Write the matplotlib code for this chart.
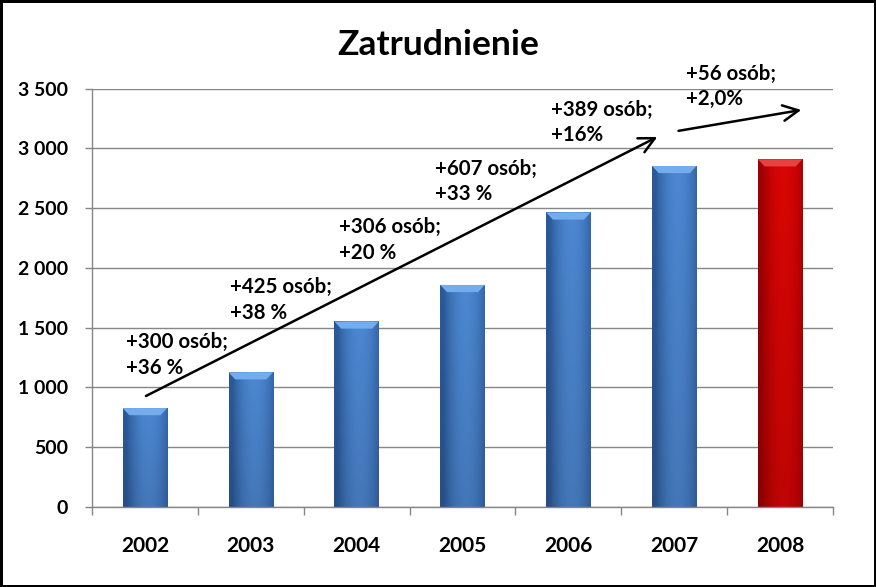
import numpy as np
import matplotlib
matplotlib.use("Agg")
import matplotlib.pyplot as plt
from matplotlib.patches import Polygon
from matplotlib.ticker import FuncFormatter, FixedLocator

# Data
years = ["2002", "2003", "2004", "2005", "2006", "2007", "2008"]
employment = [826, 1126, 1551, 1857, 2464, 2853, 2909]
highlight = [False, False, False, False, False, False, True]

# Year-on-year change labels, with (category x of left edge, y of block centre)
change_labels = ["+300 osób;\n+36 %", "+425 osób;\n+38 %", "+306 osób;\n+20 %",
                 "+607 osób;\n+33 %", "+389 osób;\n+16%", "+56 osób;\n+2,0%"]
label_x = [-0.18, 0.80, 1.83, 2.74, 3.84, 5.11]
label_y = [1270, 1731, 2233, 2724, 3218, 3519]

# Trend arrows (start, end) in data coordinates
arrows = [((0.01, 927), (4.84, 3096)), ((5.04, 3147), (6.20, 3322))]

FONT = ["Lato", "DejaVu Sans"]
BLUE = {"dark": np.array([0.17, 0.35, 0.60]), "light": np.array([0.30, 0.53, 0.82]),
        "top": np.array([0.45, 0.68, 0.93])}
RED = {"dark": np.array([0.62, 0.0, 0.0]), "light": np.array([0.85, 0.02, 0.02]),
       "top": np.array([0.92, 0.25, 0.25])}


def shade_bar(ax, bar, pal):
    """Fill a bar with a horizontal gradient and a light bevel on top."""
    x0, y0 = bar.get_x(), bar.get_y()
    w, h = bar.get_width(), bar.get_height()
    t = np.linspace(0, 1, 80)
    prof = 1 - np.abs(2 * t - 1.15).clip(0, 1) ** 2
    row = pal["dark"][None, :] + (pal["light"] - pal["dark"])[None, :] * prof[:, None]
    # slight darkening towards the bottom
    v = np.linspace(0.88, 1.0, 60)[:, None, None]
    img = (row[None, :, :] * v).clip(0, 1)
    ax.imshow(img, extent=(x0, x0 + w, y0, y0 + h), origin="lower",
              aspect="auto", zorder=2, interpolation="bilinear")
    bevel = 60
    inset = w * 0.15
    top = y0 + h
    ax.add_patch(Polygon([(x0, top), (x0 + w, top), (x0 + w - inset, top - bevel),
                          (x0 + inset, top - bevel)], closed=True,
                         facecolor=pal["top"], edgecolor="none", zorder=3))


fig = plt.figure(figsize=(8.76, 5.87), dpi=100)
fig.patch.set_facecolor("white")
fig.patch.set_edgecolor("black")
fig.patch.set_linewidth(2.5)
ax = fig.add_axes([0.105, 0.1368, 0.846, 0.7121])

x = np.arange(len(years))
bars = ax.bar(x, employment, width=0.42, color="none", zorder=2)
for bar, hl in zip(bars, highlight):
    shade_bar(ax, bar, RED if hl else BLUE)

ax.set_xlim(-0.5, len(years) - 0.5)
ax.set_ylim(0, 3500)
ax.set_yticks(np.arange(0, 3501, 500))
ax.yaxis.set_major_formatter(FuncFormatter(lambda v, p: f"{int(v):,}".replace(",", " ")))
ax.grid(axis="y", color="#868686", linewidth=1.0, zorder=0)
ax.set_axisbelow(True)

ax.set_xticks(x)
ax.set_xticklabels(years)
ax.xaxis.set_minor_locator(FixedLocator(np.arange(-0.5, len(years), 1.0)))
ax.tick_params(axis="x", which="major", length=0, pad=21)
ax.tick_params(axis="x", which="minor", length=6, color="#868686", width=1)
ax.tick_params(axis="y", length=5, color="#868686", width=1, pad=12)

for side in ["top", "right"]:
    ax.spines[side].set_visible(False)
for side in ["left", "bottom"]:
    ax.spines[side].set_color("#868686")
    ax.spines[side].set_linewidth(1)

for lbl in ax.get_yticklabels():
    lbl.set_fontfamily(FONT)
    lbl.set_fontweight("bold")
    lbl.set_fontsize(14)
for lbl in ax.get_xticklabels():
    lbl.set_fontfamily(FONT)
    lbl.set_fontweight("bold")
    lbl.set_fontsize(15)

for txt, lx, ly in zip(change_labels, label_x, label_y):
    ax.text(lx, ly, txt, ha="left", va="center", fontsize=14.7, fontweight="bold",
            family=FONT, linespacing=1.35, zorder=5)

for (x0, y0), (x1, y1) in arrows:
    ax.annotate("", xy=(x1, y1), xytext=(x0, y0),
                arrowprops=dict(arrowstyle="->", color="black", lw=1.8,
                                mutation_scale=28, shrinkA=0, shrinkB=0), zorder=5)

fig.text(0.5, 0.923, "Zatrudnienie", ha="center", va="center", fontsize=25.5,
         fontweight="bold", family=FONT)

fig.savefig("out.png", dpi=100, facecolor=fig.get_facecolor(),
            edgecolor=fig.get_edgecolor())
